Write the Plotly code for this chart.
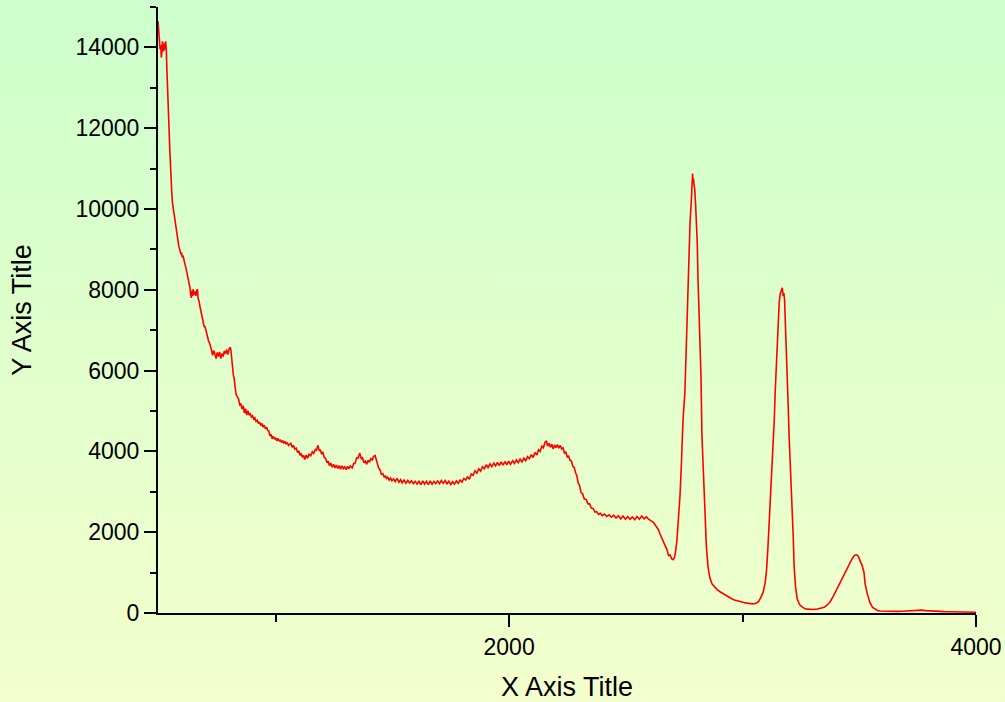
import base64
import plotly.graph_objects as go

# ---- data ----
x_values = [
    496, 499, 502, 505, 508, 510, 512, 515, 517, 520, 523, 526, 529, 532, 534, 536, 538, 540, 543, 546,
    548, 550, 553, 555, 558, 562, 565, 568, 571, 573, 576, 579, 582, 585, 588, 590, 594, 597, 600, 603,
    605, 609, 612, 615, 618, 622, 626, 630, 633, 636, 639, 642, 645, 647, 650, 654, 658, 662, 665, 668,
    672, 676, 679, 683, 686, 690, 694, 697, 701, 705, 709, 713, 717, 722, 726, 730, 735, 740, 745, 750,
    755, 760, 765, 770, 775, 780, 785, 790, 795, 800, 805, 808, 811, 815, 819, 822, 826, 830, 836, 841,
    846, 851, 856, 861, 866, 871, 876, 881, 886, 891, 896, 901, 906, 911, 916, 921, 926, 931, 936, 941,
    946, 951, 956, 961, 966, 971, 976, 981, 985, 990, 995, 1000, 1005, 1010, 1015, 1020, 1025, 1030, 1035, 1040,
    1045, 1050, 1055, 1060, 1065, 1071, 1076, 1082, 1088, 1094, 1100, 1105, 1110, 1115, 1120, 1125, 1131, 1137, 1143, 1150,
    1157, 1163, 1170, 1175, 1181, 1187, 1192, 1197, 1202, 1208, 1214, 1220, 1225, 1230, 1236, 1242, 1248, 1254, 1260, 1266,
    1272, 1278, 1284, 1290, 1296, 1302, 1308, 1314, 1320, 1328, 1334, 1340, 1347, 1354, 1360, 1367, 1372, 1378, 1384, 1390,
    1396, 1402, 1408, 1414, 1420, 1426, 1431, 1436, 1441, 1447, 1453, 1459, 1465, 1470, 1475, 1480, 1486, 1492, 1498, 1505,
    1512, 1520, 1528, 1535, 1542, 1550, 1558, 1566, 1574, 1582, 1590, 1598, 1606, 1614, 1622, 1630, 1638, 1646, 1654, 1662,
    1670, 1678, 1686, 1694, 1702, 1710, 1718, 1726, 1734, 1742, 1750, 1758, 1766, 1774, 1782, 1790, 1798, 1806, 1814, 1822,
    1830, 1838, 1846, 1854, 1862, 1870, 1878, 1886, 1894, 1902, 1910, 1918, 1926, 1934, 1942, 1950, 1958, 1966, 1974, 1982,
    1990, 1998, 2006, 2015, 2023, 2031, 2039, 2047, 2055, 2063, 2071, 2079, 2087, 2095, 2103, 2111, 2119, 2126, 2133, 2140,
    2147, 2154, 2160, 2165, 2171, 2177, 2183, 2189, 2195, 2201, 2207, 2213, 2219, 2225, 2231, 2237, 2243, 2249, 2255, 2261,
    2267, 2273, 2279, 2285, 2290, 2296, 2302, 2308, 2315, 2322, 2330, 2338, 2345, 2352, 2360, 2368, 2375, 2383, 2391, 2399,
    2408, 2418, 2428, 2438, 2448, 2458, 2468, 2478, 2488, 2498, 2508, 2518, 2528, 2538, 2548, 2558, 2568, 2578, 2588, 2596,
    2604, 2612, 2619, 2626, 2633, 2640, 2646, 2653, 2660, 2667, 2676, 2683, 2689, 2697, 2703, 2708, 2713, 2719, 2725, 2732,
    2738, 2745, 2753, 2758, 2762, 2766, 2770, 2775, 2780, 2784, 2786, 2788, 2790, 2792, 2795, 2799, 2803, 2806, 2809, 2814,
    2818, 2822, 2826, 2831, 2835, 2839, 2845, 2852, 2860, 2869, 2880, 2891, 2905, 2920, 2934, 2948, 2962, 2977, 2990, 3005,
    3019, 3032, 3045, 3058, 3068, 3078, 3088, 3097, 3103, 3109, 3115, 3121, 3127, 3131, 3136, 3140, 3144, 3148, 3153, 3157,
    3161, 3165, 3170, 3174, 3177, 3180, 3183, 3187, 3191, 3195, 3200, 3206, 3213, 3217, 3221, 3227, 3234, 3244, 3255, 3266,
    3277, 3290, 3305, 3320, 3335, 3350, 3363, 3376, 3389, 3403, 3418, 3433, 3448, 3459, 3470, 3480, 3490, 3496, 3502, 3512,
    3520, 3525, 3535, 3546, 3557, 3568, 3578, 3589, 3605, 3625, 3645, 3665, 3685, 3705, 3725, 3745, 3765, 3785, 3805, 3825,
    3845, 3865, 3885, 3905, 3925, 3945, 3965, 3985, 4000,
]

y_values = [
    14650, 14350, 14300, 13950, 14050, 13750, 13850, 14150, 14050, 13900, 14100, 13950, 14150, 13900, 13450, 13000, 12800, 12500, 12050, 11550,
    11200, 10900, 10600, 10400, 10150, 9980, 9850, 9720, 9580, 9480, 9400, 9280, 9220, 9080, 9020, 8980, 8880, 8920, 8800, 8850,
    8780, 8680, 8620, 8560, 8450, 8320, 8250, 8130, 8060, 7880, 7800, 7980, 7850, 8020, 7880, 7960, 7850, 7980, 8020, 7780,
    7720, 7580, 7480, 7350, 7250, 7180, 7080, 7100, 6980, 6880, 6820, 6720, 6680, 6580, 6480, 6380, 6500, 6380, 6300, 6450,
    6350, 6460, 6300, 6420, 6350, 6480, 6420, 6520, 6400, 6520, 6580, 6520, 6300, 6050, 5880, 5820, 5550, 5420, 5350, 5300,
    5150, 5170, 5050, 5130, 4950, 5060, 4900, 5010, 4900, 4930, 4850, 4880, 4800, 4830, 4740, 4770, 4690, 4730, 4640, 4690,
    4600, 4650, 4560, 4600, 4520, 4500, 4380, 4420, 4310, 4370, 4300, 4340, 4260, 4320, 4250, 4290, 4220, 4270, 4200, 4250,
    4180, 4220, 4150, 4190, 4200, 4100, 4150, 4060, 4080, 3970, 4010, 3900, 3950, 3850, 3900, 3800, 3910, 3830, 3930, 3890,
    3990, 3950, 4050, 4030, 4150, 4020, 4030, 3930, 3990, 3850, 3830, 3720, 3760, 3650, 3710, 3610, 3680, 3590, 3660, 3580,
    3650, 3560, 3640, 3570, 3620, 3550, 3630, 3570, 3640, 3590, 3700, 3700, 3840, 3840, 3960, 3820, 3840, 3720, 3760, 3680,
    3780, 3730, 3820, 3790, 3880, 3900, 3790, 3740, 3590, 3540, 3430, 3450, 3360, 3400, 3320, 3360, 3290, 3340, 3270, 3320,
    3250, 3330, 3240, 3300, 3220, 3290, 3210, 3280, 3220, 3270, 3200, 3260, 3190, 3260, 3180, 3270, 3190, 3260, 3180, 3270,
    3190, 3260, 3200, 3270, 3200, 3280, 3210, 3280, 3200, 3260, 3180, 3250, 3190, 3270, 3210, 3290, 3240, 3330, 3290, 3370,
    3310, 3440, 3410, 3520, 3460, 3570, 3510, 3620, 3570, 3670, 3600, 3690, 3620, 3710, 3640, 3730, 3650, 3740, 3660, 3750,
    3670, 3760, 3680, 3770, 3700, 3790, 3720, 3810, 3740, 3830, 3770, 3870, 3820, 3920, 3850, 3970, 3910, 4040, 4000, 4130,
    4090, 4230, 4250, 4130, 4200, 4100, 4180, 4060, 4160, 4090, 4170, 4080, 4150, 4060, 4090, 3960, 3980, 3860, 3880, 3780,
    3760, 3630, 3600, 3470, 3400, 3220, 3150, 2980, 2950, 2820, 2810, 2700, 2700, 2600, 2590, 2500, 2510, 2440, 2470, 2410,
    2450, 2390, 2430, 2370, 2420, 2350, 2410, 2330, 2400, 2320, 2390, 2320, 2380, 2310, 2390, 2320, 2400, 2330, 2380, 2330,
    2300, 2280, 2240, 2180, 2120, 2060, 1960, 1860, 1750, 1680, 1570, 1420, 1440, 1340, 1320, 1370, 1520, 1800, 2250, 2900,
    3670, 4785, 5450, 6400, 7500, 8300, 9060, 9650, 10150, 10500, 10880, 10650, 10750, 10600, 10500, 10100, 9650, 9150, 8300, 7500,
    6650, 5850, 4400, 3600, 3000, 2300, 1650, 1150, 870, 720, 640, 580, 520, 460, 410, 370, 330, 300, 280, 260,
    245, 230, 225, 240, 280, 380, 510, 750, 1080, 1650, 2350, 2950, 3550, 4350, 4800, 5500, 6020, 6840, 7350, 7680,
    7900, 8000, 8050, 7850, 7920, 7750, 7300, 6840, 6100, 5210, 4300, 3550, 2700, 1900, 1150, 650, 350, 210, 150, 110,
    95, 88, 87, 100, 125, 140, 200, 285, 420, 580, 770, 950, 1100, 1250, 1350, 1430, 1440, 1400, 1320, 1180,
    1010, 720, 460, 250, 140, 90, 62, 50, 45, 40, 42, 40, 45, 55, 68, 78, 72, 58, 48, 42,
    38, 35, 32, 30, 28, 25, 22, 20, 20,
]

x_tick_values = [2000, 4000]
y_tick_values = [0, 2000, 4000, 6000, 8000, 10000, 12000, 14000]
x_title = "X Axis Title"
y_title = "Y Axis Title"

# ---- figure ----
W, H = 1005, 702
ML, MR, MT, MB = 158, 29, 7, 89
pw, ph = W - ML - MR, H - MT - MB

svg = (
    '<svg xmlns="http://www.w3.org/2000/svg" width="100" height="100" viewBox="0 0 100 100" '
    'preserveAspectRatio="none"><defs><linearGradient id="g" x1="0" y1="0" x2="0" y2="1">'
    '<stop offset="0" stop-color="#CCFFCC"/><stop offset="1" stop-color="#F3FFCC"/>'
    '</linearGradient></defs><rect width="100" height="100" fill="url(#g)"/></svg>'
)
bg_src = "data:image/svg+xml;base64," + base64.b64encode(svg.encode()).decode()

fig = go.Figure()
fig.add_trace(go.Scatter(
    x=x_values, y=y_values, mode="lines",
    line=dict(color="#FF0000", width=1.6),
    showlegend=False, hoverinfo="skip",
))

font_family = "Arial, Liberation Sans, sans-serif"
axis_common = dict(
    showline=True, linecolor="black", linewidth=2,
    ticks="outside", ticklen=12, tickwidth=2, tickcolor="black",
    showgrid=False, zeroline=False, automargin=False,
    tickfont=dict(family=font_family, size=23, color="black"),
)

fig.update_layout(
    width=W, height=H,
    margin=dict(l=ML, r=MR, t=MT, b=MB, pad=0),
    paper_bgcolor="#E2FFCC",
    plot_bgcolor="rgba(0,0,0,0)",
    images=[dict(
        source=bg_src, xref="paper", yref="paper",
        x=-ML / pw, y=1 + MT / ph, sizex=W / pw, sizey=H / ph,
        xanchor="left", yanchor="top", sizing="stretch", layer="below",
    )],
    xaxis=dict(
        axis_common,
        range=[496, 4000], tickmode="array", tickvals=x_tick_values,
        ticktext=[str(v) for v in x_tick_values],
        minor=dict(ticks="outside", ticklen=7, tickwidth=2, tickcolor="black", dtick=1000, tick0=0),
        title=dict(text=x_title, font=dict(family=font_family, size=27, color="black"), standoff=20),
    ),
    yaxis=dict(
        axis_common,
        range=[0, 15000], tickmode="array", tickvals=y_tick_values,
        ticktext=[str(v) for v in y_tick_values],
        minor=dict(ticks="outside", ticklen=6, tickwidth=2, tickcolor="black", dtick=1000, tick0=0),
        title=dict(text=y_title, font=dict(family=font_family, size=27, color="black"), standoff=36),
    ),
)

fig.write_html(
    "out.html",
    config={"displayModeBar": False},
    post_script="document.body.style.margin='0';document.body.style.overflow='hidden';",
)
